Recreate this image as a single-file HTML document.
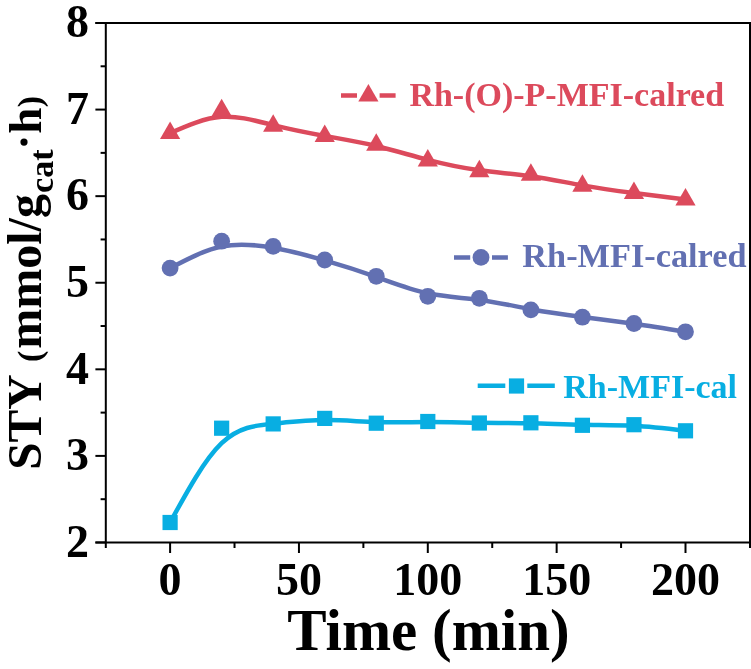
<!DOCTYPE html><html><head><meta charset="utf-8"><style>html,body{margin:0;padding:0;background:#fff;width:751px;height:669px;overflow:hidden}svg{display:block;will-change:transform}text{font-family:"Liberation Serif",serif;font-weight:bold}</style></head><body>
<svg width="751" height="669" viewBox="0 0 751 669">
<g stroke="#000" stroke-width="2" fill="none">
<path d="M95.4,23 H750 M95.4,542.5 H750 M105.8,22 V548 M750,22 V548"/>
<path d="M95.4,542.48 H105.8"/>
<path d="M95.4,455.90 H105.8"/>
<path d="M95.4,369.32 H105.8"/>
<path d="M95.4,282.74 H105.8"/>
<path d="M95.4,196.16 H105.8"/>
<path d="M95.4,109.58 H105.8"/>
<path d="M95.4,23.00 H105.8"/>
<path d="M100.6,499.19 H105.8"/>
<path d="M100.6,412.61 H105.8"/>
<path d="M100.6,326.03 H105.8"/>
<path d="M100.6,239.45 H105.8"/>
<path d="M100.6,152.87 H105.8"/>
<path d="M100.6,66.29 H105.8"/>
<path d="M170.10,542.5 V553"/>
<path d="M298.95,542.5 V553"/>
<path d="M427.80,542.5 V553"/>
<path d="M556.65,542.5 V553"/>
<path d="M685.50,542.5 V553"/>
<path d="M234.52,542.5 V548"/>
<path d="M363.38,542.5 V548"/>
<path d="M492.23,542.5 V548"/>
<path d="M621.08,542.5 V548"/>
</g>
<g font-size="46" fill="#000">
<text x="89" y="556.78" text-anchor="end">2</text>
<text x="89" y="470.20" text-anchor="end">3</text>
<text x="89" y="383.62" text-anchor="end">4</text>
<text x="89" y="297.04" text-anchor="end">5</text>
<text x="89" y="210.46" text-anchor="end">6</text>
<text x="89" y="123.88" text-anchor="end">7</text>
<text x="89" y="37.30" text-anchor="end">8</text>
<text x="170.10" y="594.8" text-anchor="middle">0</text>
<text x="298.95" y="594.8" text-anchor="middle">50</text>
<text x="427.80" y="594.8" text-anchor="middle">100</text>
<text x="556.65" y="594.8" text-anchor="middle">150</text>
<text x="685.50" y="594.8" text-anchor="middle">200</text>
</g>
<text x="428.5" y="650" font-size="59" text-anchor="middle">Time (min)</text>
<text transform="translate(41,469.80) rotate(-90)" font-size="49">STY</text>
<text transform="translate(41,362.10) rotate(-90)" font-size="34">(</text>
<text transform="translate(41,348.70) rotate(-90)" font-size="48">mmol/g</text>
<text transform="translate(53.4,192.96) rotate(-90)" font-size="34">cat</text>
<text transform="translate(41,133.70) rotate(-90)" font-size="47">h</text>
<text transform="translate(41,107.20) rotate(-90)" font-size="34">)</text>
<circle cx="24" cy="142.1" r="3.6" fill="#000"/>
<path d="M170.10,133.10 C187.28,125.57 204.46,118.03 221.64,116.85 C238.82,115.67 256.00,120.83 273.18,125.12 C290.36,129.40 307.54,132.80 324.72,135.93 C341.90,139.07 359.08,141.93 376.26,146.02 C393.44,150.10 410.62,155.40 427.80,159.83 C444.98,164.27 462.16,167.83 479.34,170.22 C496.52,172.60 513.70,173.80 530.88,176.23 C548.06,178.67 565.24,182.33 582.42,185.37 C599.60,188.40 616.78,190.80 633.96,193.07 C651.14,195.33 668.32,197.47 685.50,199.60" stroke="#DC4A5C" stroke-width="4.5" fill="none" stroke-linejoin="round"/>
<path d="M170.10,268.10 C187.28,259.13 204.46,250.17 221.64,246.55 C238.82,242.93 256.00,244.67 273.18,247.80 C290.36,250.93 307.54,255.47 324.72,260.45 C341.90,265.43 359.08,270.87 376.26,276.92 C393.44,282.97 410.62,289.63 427.80,293.30 C444.98,296.97 462.16,297.63 479.34,299.90 C496.52,302.17 513.70,306.03 530.88,309.18 C548.06,312.33 565.24,314.77 582.42,317.03 C599.60,319.30 616.78,321.40 633.96,323.83 C651.14,326.27 668.32,329.03 685.50,331.80" stroke="#6270B2" stroke-width="4.5" fill="none" stroke-linejoin="round"/>
<path d="M170.10,522.50 C187.28,491.07 204.46,459.63 221.64,443.20 C238.82,426.77 256.00,425.33 273.18,423.70 C290.36,422.07 307.54,420.23 324.72,420.12 C341.90,420.00 359.08,421.60 376.26,422.12 C393.44,422.63 410.62,422.07 427.80,422.03 C444.98,422.00 462.16,422.50 479.34,422.72 C496.52,422.93 513.70,422.87 530.88,423.25 C548.06,423.63 565.24,424.47 582.42,424.78 C599.60,425.10 616.78,424.90 633.96,425.82 C651.14,426.73 668.32,428.77 685.50,430.80" stroke="#08AEE2" stroke-width="4.5" fill="none" stroke-linejoin="round"/>
<g fill="#DC4A5C"><path d="M170.10,121.43 L180.20,138.93 L160.00,138.93Z"/><path d="M221.64,98.83 L231.74,116.33 L211.54,116.33Z"/><path d="M273.18,114.33 L283.28,131.83 L263.08,131.83Z"/><path d="M324.72,124.53 L334.82,142.03 L314.62,142.03Z"/><path d="M376.26,133.13 L386.36,150.63 L366.16,150.63Z"/><path d="M427.80,149.03 L437.90,166.53 L417.70,166.53Z"/><path d="M479.34,159.73 L489.44,177.23 L469.24,177.23Z"/><path d="M530.88,163.33 L540.98,180.83 L520.78,180.83Z"/><path d="M582.42,174.33 L592.52,191.83 L572.32,191.83Z"/><path d="M633.96,181.53 L644.06,199.03 L623.86,199.03Z"/><path d="M685.50,187.93 L695.60,205.43 L675.40,205.43Z"/></g>
<g fill="#6270B2"><circle cx="170.10" cy="268.10" r="8.40"/><circle cx="221.64" cy="241.20" r="8.40"/><circle cx="273.18" cy="246.40" r="8.40"/><circle cx="324.72" cy="260.00" r="8.40"/><circle cx="376.26" cy="276.30" r="8.40"/><circle cx="427.80" cy="296.30" r="8.40"/><circle cx="479.34" cy="298.30" r="8.40"/><circle cx="530.88" cy="309.90" r="8.40"/><circle cx="582.42" cy="317.20" r="8.40"/><circle cx="633.96" cy="323.50" r="8.40"/><circle cx="685.50" cy="331.80" r="8.40"/></g>
<g fill="#08AEE2"><rect x="162.50" y="514.90" width="15.2" height="15.2"/><rect x="214.04" y="420.60" width="15.2" height="15.2"/><rect x="265.58" y="416.30" width="15.2" height="15.2"/><rect x="317.12" y="410.80" width="15.2" height="15.2"/><rect x="368.66" y="415.60" width="15.2" height="15.2"/><rect x="420.20" y="413.90" width="15.2" height="15.2"/><rect x="471.74" y="415.40" width="15.2" height="15.2"/><rect x="523.28" y="415.20" width="15.2" height="15.2"/><rect x="574.82" y="417.70" width="15.2" height="15.2"/><rect x="626.36" y="417.10" width="15.2" height="15.2"/><rect x="677.90" y="423.20" width="15.2" height="15.2"/></g>
<path d="M341,95.4 H357 M379.6,95.4 H395.6" stroke="#DC4A5C" stroke-width="4.5"/>
<g fill="#DC4A5C"><path d="M368.40,83.93 L378.50,101.43 L358.30,101.43Z"/></g>
<text x="409.42" y="105.7" font-size="34" fill="#DC4A5C">Rh-(O)-P-MFI-calred</text>
<path d="M454,257.5 H470.2 M492,257.5 H507.9" stroke="#6270B2" stroke-width="4.5"/>
<g fill="#6270B2"><circle cx="481.00" cy="257.40" r="8.40"/></g>
<text x="522.3199999999999" y="267.1" font-size="34.3" fill="#6270B2">Rh-MFI-calred</text>
<path d="M477.7,385.8 H505.3 M527.3,385.8 H554.8" stroke="#08AEE2" stroke-width="4.5"/>
<g fill="#08AEE2"><rect x="508.90" y="378.40" width="15.2" height="15.2"/></g>
<text x="563.3199999999999" y="397.5" font-size="34" fill="#08AEE2">Rh-MFI-cal</text>
</svg></body></html>
